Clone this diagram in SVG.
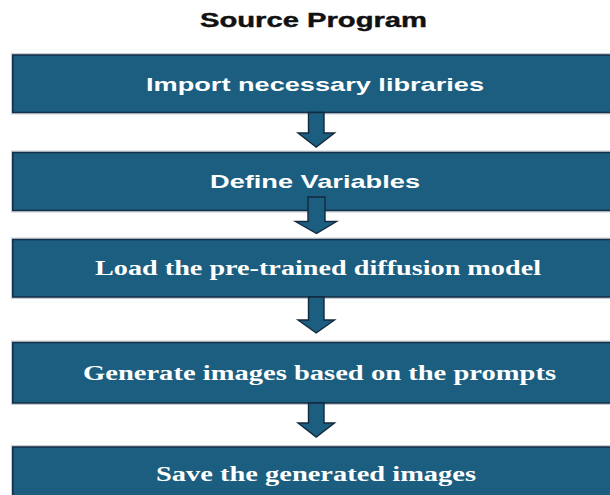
<svg xmlns="http://www.w3.org/2000/svg" width="610" height="495" viewBox="0 0 610 495">
  <style>
    .halo { fill: none; stroke: #c9cdd2; stroke-width: 1; }
    .box { fill: #1b5e80; stroke: #15304a; stroke-width: 1.6; }
    .arrow { fill: #1b5e80; stroke: #13293d; stroke-width: 1.4; stroke-linejoin: miter; }
    .title { font-family: "Liberation Sans", Arial, sans-serif; font-weight: bold; font-size: 20px; fill: #111111; stroke: #111111; stroke-width: 0.4; }
    .sans { font-family: "Liberation Sans", Arial, sans-serif; font-weight: bold; font-size: 18.5px; fill: #ffffff; }
    .serif { font-family: "Liberation Serif", "Times New Roman", serif; font-weight: bold; font-size: 20.5px; fill: #ffffff; }
  </style>
  <rect width="610" height="495" fill="#ffffff"/>

  <text class="title" x="313.5" y="27" text-anchor="middle" textLength="227" lengthAdjust="spacingAndGlyphs">Source Program</text>

  <!-- step boxes -->
  <g id="step-import">
    <rect class="halo" x="11.5" y="53.5" width="620" height="60.5"/>
    <rect class="box" x="12.8" y="55" width="620" height="57.5"/>
    <text class="sans" x="315" y="90.5" text-anchor="middle" textLength="338" lengthAdjust="spacingAndGlyphs">Import necessary libraries</text>
  </g>
  <g id="step-define">
    <rect class="halo" x="11.5" y="151" width="620" height="61"/>
    <rect class="box" x="12.8" y="152.5" width="620" height="58"/>
    <text class="sans" x="315" y="187.5" text-anchor="middle" textLength="210" lengthAdjust="spacingAndGlyphs">Define Variables</text>
  </g>
  <g id="step-load">
    <rect class="halo" x="11.5" y="238" width="620" height="60.5"/>
    <rect class="box" x="12.8" y="239.5" width="620" height="57.5"/>
    <text class="serif" x="318" y="275" text-anchor="middle" textLength="446" lengthAdjust="spacingAndGlyphs">Load the pre-trained diffusion model</text>
  </g>
  <g id="step-generate">
    <rect class="halo" x="11.5" y="341" width="620" height="63.5"/>
    <rect class="box" x="12.8" y="342.5" width="620" height="60.5"/>
    <text class="serif" x="319.5" y="380" text-anchor="middle" textLength="473" lengthAdjust="spacingAndGlyphs">Generate images based on the prompts</text>
  </g>
  <g id="step-save">
    <rect class="halo" x="11.5" y="445.5" width="620" height="60"/>
    <rect class="box" x="12.8" y="447" width="620" height="60"/>
    <text class="serif" x="316" y="480.5" text-anchor="middle" textLength="320" lengthAdjust="spacingAndGlyphs">Save the generated images</text>
  </g>

  <!-- block arrows between steps -->
  <g id="connectors">
    <polygon class="arrow" points="308.5,112.5 324,112.5 324,133 334.5,133 316.2,147 298,133 308.5,133"/>
    <polygon class="arrow" points="308,197 325,197 325,221.5 336.5,221.5 316.5,233.5 295.5,221.5 308,221.5"/>
    <polygon class="arrow" points="308.5,297 324,297 324,320 334.5,320 316.2,333 298,320 308.5,320"/>
    <polygon class="arrow" points="308.5,403 324,403 324,423 334.5,423 316.2,437 298,423 308.5,423"/>
  </g>
</svg>
